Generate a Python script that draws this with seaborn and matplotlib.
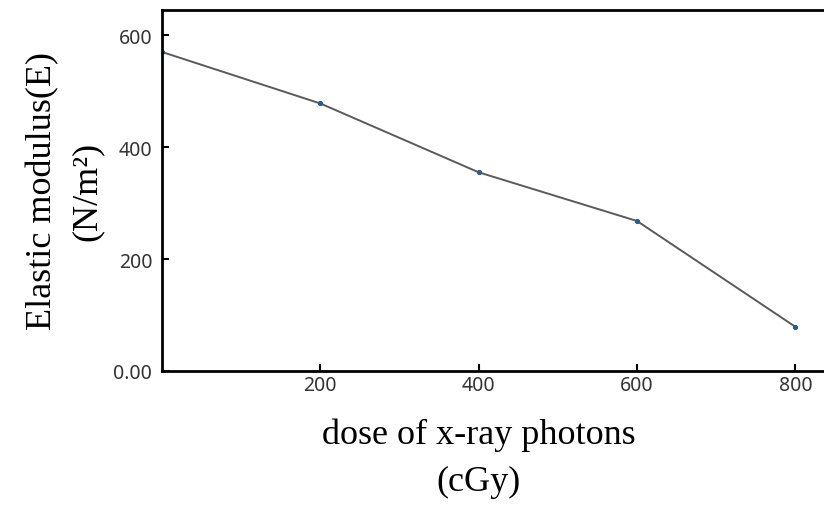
import matplotlib
matplotlib.use("Agg")
import matplotlib.pyplot as plt
import seaborn as sns
import pandas as pd

dose = [0, 200, 400, 600, 800]
modulus = [570, 478, 355, 268, 79]
xticks = [200, 400, 600, 800]
yticks = [0, 200, 400, 600]
ytick_labels = ["0.00", "200", "400", "600"]

sns.set_theme(style="white")
plt.rcParams['font.family'] = ['Noto Sans', 'DejaVu Sans']

df = pd.DataFrame({"dose": dose, "E": modulus})

fig = plt.figure(figsize=(8.24, 5.06), dpi=100)
ax = fig.add_axes([162/824, 134/506, 1 - 162/824 + 0.02, 361/506])

sns.lineplot(data=df, x="dose", y="E", ax=ax, color="#5a5a5a", linewidth=1.4,
             marker="o", markersize=3, markerfacecolor="#2e5c8a",
             markeredgecolor="#2e5c8a")

ax.set_xlim(0, 857)
ax.set_ylim(0, 645)
ax.set_xticks(xticks)
ax.set_yticks(yticks)
ax.set_yticklabels(ytick_labels)
ax.tick_params(axis="both", direction="in", length=5, width=1.5, color="black",
               labelsize=14, labelcolor="#333333", bottom=True, left=True)
ax.tick_params(axis="x", pad=3)
ax.tick_params(axis="y", pad=7)
for side in ["left", "bottom", "top", "right"]:
    ax.spines[side].set_color("black")
    ax.spines[side].set_linewidth(2)

serif = ['Liberation Serif', 'DejaVu Serif']
ax.set_xlabel("dose of x-ray photons\n(cGy)", fontsize=26, family=serif,
              color="black", linespacing=1.55)
ax.set_ylabel("Elastic modulus(E)\n(N/m²)", fontsize=26, family=serif,
              color="black", linespacing=1.45)
axw = ax.get_position().width * 824
ax.xaxis.set_label_coords((479 - 162) / axw, -0.13)
ax.xaxis.label.set_verticalalignment("top")
ax.yaxis.set_label_coords(-(162 - 65) / axw, 0.5)
ax.yaxis.label.set_verticalalignment("center")

fig.savefig("out.png", dpi=100)
